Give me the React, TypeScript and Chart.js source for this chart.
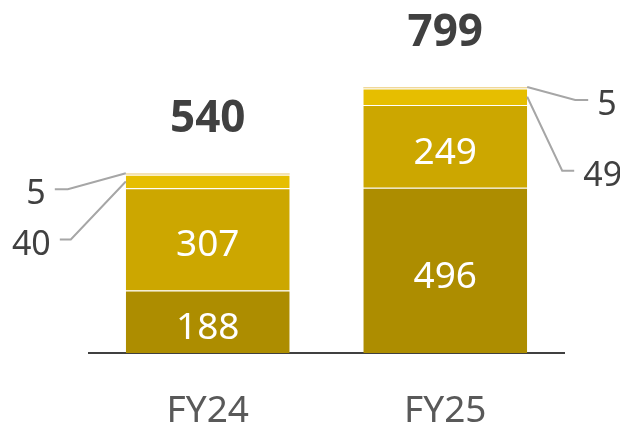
import React, { useEffect, useRef } from "react";
import { Chart, registerables } from "chart.js";

Chart.register(...registerables);

// ---------- data ----------
const categories = ["FY24", "FY25"];
const seriesBase = [188, 496];
const seriesMid = [307, 249];
const seriesUpper = [40, 49];
const seriesTop = [5, 5];
const totals = [540, 799];

// ---------- style ----------
const seriesColors = ["#AD8D00", "#CCA700", "#E6BE00", "#F0D898"];
const FONT = "'Noto Sans', 'DejaVu Sans', sans-serif";
const DARK = "#404040";
const LINE_GREY = "#A6A6A6";

// callout layout: which category, which dataset, which side, offsets (px)
const callouts = [
  { cat: 0, ds: 3, side: -1, anchorFrac: 0, elbowDx: 58, elbowDy: 16, lineLen: 13 },
  { cat: 0, ds: 2, side: -1, anchorFrac: 0.5, elbowDx: 55, elbowDy: 58, lineLen: 11 },
  { cat: 1, ds: 3, side: 1, anchorFrac: 0, elbowDx: 48, elbowDy: 13, lineLen: 13 },
  { cat: 1, ds: 2, side: 1, anchorFrac: 0.5, elbowDx: 35, elbowDy: 74, lineLen: 12 },
];

function drawText(
  ctx: CanvasRenderingContext2D,
  text: string,
  x: number,
  cy: number,
  size: number,
  weight: string,
  color: string,
  align: CanvasTextAlign
) {
  ctx.font = `${weight} ${size}px ${FONT}`;
  ctx.fillStyle = color;
  ctx.textAlign = align;
  ctx.textBaseline = "alphabetic";
  ctx.fillText(text, x, cy + size * 0.357);
}

const labelsPlugin = {
  id: "barLabels",
  afterDatasetsDraw(chart: any) {
    const ctx: CanvasRenderingContext2D = chart.ctx;
    ctx.save();
    // inner white labels
    [0, 1].forEach((di) => {
      const meta = chart.getDatasetMeta(di);
      meta.data.forEach((el: any, i: number) => {
        const v = chart.data.datasets[di].data[i];
        const cy = (el.y + el.base) / 2 + 4;
        drawText(ctx, String(v), el.x, cy, 37, "400", "#ffffff", "center");
      });
    });
    // totals
    const topMeta = chart.getDatasetMeta(3);
    topMeta.data.forEach((el: any, i: number) => {
      drawText(ctx, String(totals[i]), el.x, el.y - 56.5, 44, "700", DARK, "center");
    });
    // callouts
    callouts.forEach((c) => {
      const el: any = chart.getDatasetMeta(c.ds).data[c.cat];
      const v = chart.data.datasets[c.ds].data[c.cat];
      const ax = el.x + (c.side * el.width) / 2;
      const ay = el.y + (el.base - el.y) * c.anchorFrac;
      const ex = ax + c.side * c.elbowDx;
      const ey = ay + c.elbowDy;
      const sx = ex + c.side * c.lineLen;
      ctx.strokeStyle = LINE_GREY;
      ctx.lineWidth = 2;
      ctx.beginPath();
      ctx.moveTo(ax, ay);
      ctx.lineTo(ex, ey);
      ctx.lineTo(sx, ey);
      ctx.stroke();
      drawText(
        ctx,
        String(v),
        sx + c.side * 9,
        ey + 3,
        34,
        "400",
        DARK,
        c.side < 0 ? "right" : "left"
      );
    });
    ctx.restore();
  },
};

export default function App() {
  const canvasRef = useRef<HTMLCanvasElement | null>(null);

  useEffect(() => {
    if (!canvasRef.current) return;
    const sepBorder = { top: 1, right: 0, bottom: 0, left: 0 };
    const chart = new Chart(canvasRef.current, {
      type: "bar",
      data: {
        labels: categories,
        datasets: [
          { data: seriesBase, backgroundColor: seriesColors[0], borderColor: "#ffffff", borderWidth: sepBorder, borderSkipped: false },
          { data: seriesMid, backgroundColor: seriesColors[1], borderColor: "#ffffff", borderWidth: sepBorder, borderSkipped: false },
          { data: seriesUpper, backgroundColor: seriesColors[2], borderColor: "#ffffff", borderWidth: sepBorder, borderSkipped: false },
          { data: seriesTop, backgroundColor: seriesColors[3], borderWidth: 0 },
        ],
      },
      options: {
        responsive: false,
        animation: false,
        events: [],
        layout: { padding: { left: 89, right: 56, top: 20, bottom: 0 } },
        plugins: { legend: { display: false }, tooltip: { enabled: false } },
        datasets: { bar: { categoryPercentage: 1, barPercentage: 0.69 } },
        scales: {
          x: {
            stacked: true,
            grid: { display: false, drawTicks: false },
            border: { display: true, color: DARK, width: 2 },
            ticks: { color: "#595959", font: { family: FONT, size: 37 }, padding: 36 },
            afterFit: (s: any) => {
              s.height = 75;
            },
          },
          y: { stacked: true, display: false, min: 0, max: 1000 },
        },
      } as any,
      plugins: [labelsPlugin],
    });
    return () => chart.destroy();
  }, []);

  return (
    <div style={{ position: "fixed", left: 0, top: 0, width: 620, height: 428, background: "#fff" }}>
      <canvas ref={canvasRef} width={620} height={428} style={{ display: "block" }} />
    </div>
  );
}
